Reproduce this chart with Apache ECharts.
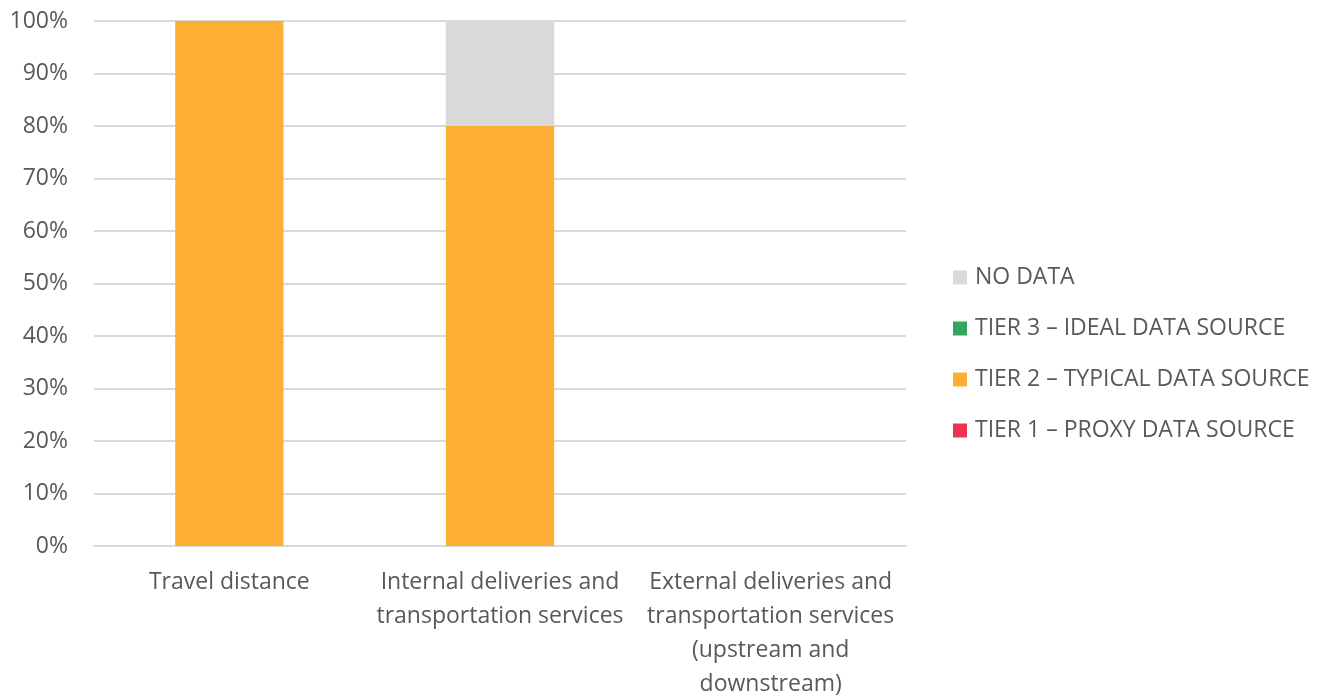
<!DOCTYPE html>
<html>
<head>
<meta charset="utf-8">
<script src="https://cdn.jsdelivr.net/npm/echarts@6/dist/echarts.min.js"></script>
<style>
  html, body { margin: 0; padding: 0; background: #fff; }
  #chart { width: 1337px; height: 696px; }
</style>
</head>
<body>
<div id="chart"></div>
<script>
  // data
  var categories = [
    'Travel distance',
    'Internal deliveries and\ntransportation services',
    'External deliveries and\ntransportation services\n(upstream and\ndownstream)'
  ];
  var tier1 = [0, 0, 0];
  var tier2 = [100, 80, 0];
  var tier3 = [0, 0, 0];
  var noData = [0, 20, 0];

  var chart = echarts.init(document.getElementById('chart'));
  var font = '"Open Sans", sans-serif';

  function bar(name, data, color) {
    return {
      name: name,
      type: 'bar',
      stack: 'total',
      data: data,
      barWidth: '40%',
      itemStyle: { color: color },
      emphasis: { disabled: true }
    };
  }

  var option = {
    animation: false,
    textStyle: { fontFamily: font },
    grid: { left: 94, right: 431, top: 21, bottom: 150, outerBoundsMode: 'none', containLabel: false },
    legend: {
      orient: 'vertical',
      left: 948,
      top: 261,
      itemWidth: 14,
      itemHeight: 14,
      itemGap: 28,
      icon: 'rect',
      textStyle: { fontSize: 23, color: '#595959', fontFamily: font, padding: [0, 0, 0, 3] },
      data: ['NO DATA', 'TIER 3 – IDEAL DATA SOURCE', 'TIER 2 – TYPICAL DATA SOURCE', 'TIER 1 – PROXY DATA SOURCE']
    },
    xAxis: {
      type: 'category',
      data: categories,
      axisTick: { show: false },
      axisLine: { lineStyle: { color: '#d9d9d9', width: 2 } },
      axisLabel: {
        color: '#595959',
        fontSize: 23,
        lineHeight: 34,
        margin: 19,
        interval: 0
      }
    },
    yAxis: {
      type: 'value',
      min: 0,
      max: 100,
      interval: 10,
      axisLine: { show: false },
      axisTick: { show: false },
      splitLine: { lineStyle: { color: '#d9d9d9', width: 2 } },
      axisLabel: {
        color: '#595959',
        fontSize: 23,
        margin: 26,
        formatter: '{value}%'
      }
    },
    series: [
      bar('TIER 1 – PROXY DATA SOURCE', tier1, '#e8374f'),
      bar('TIER 2 – TYPICAL DATA SOURCE', tier2, '#fdae34'),
      bar('TIER 3 – IDEAL DATA SOURCE', tier3, '#33a65e'),
      bar('NO DATA', noData, '#d9d9d9')
    ]
  };

  chart.setOption(option);
</script>
</body>
</html>
